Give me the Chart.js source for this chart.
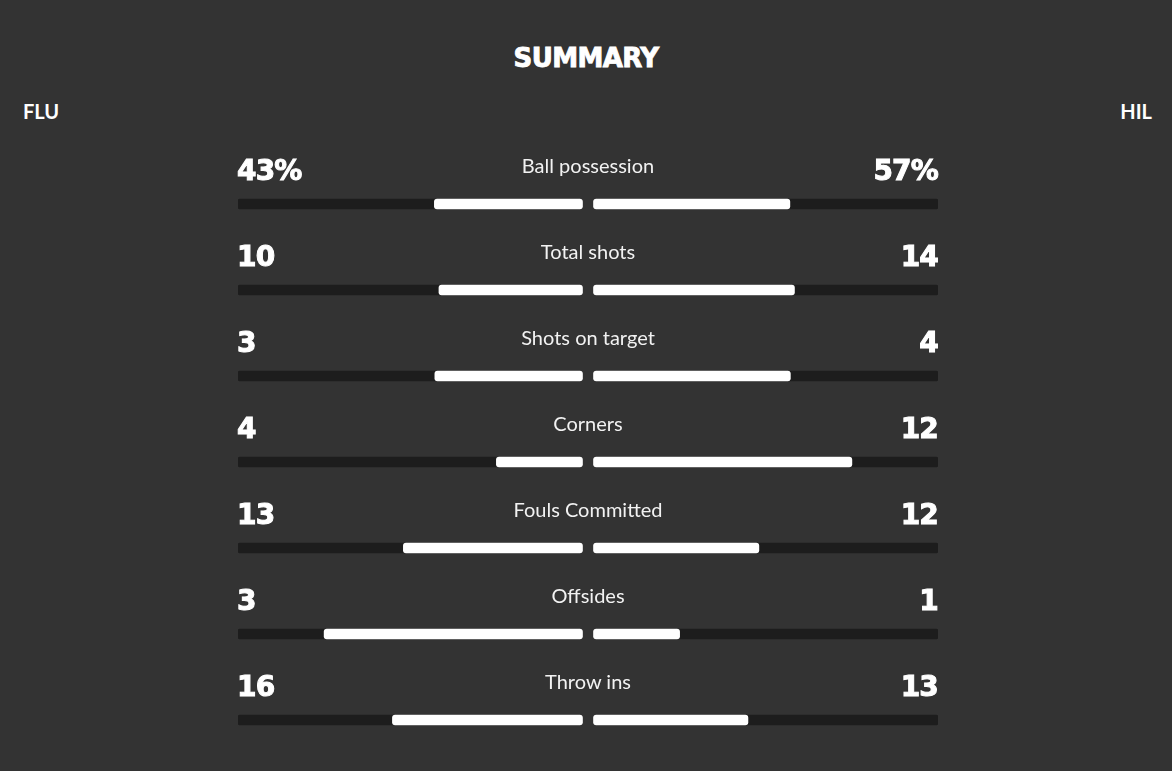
<!DOCTYPE html>
<html>
<head>
<meta charset="utf-8">
<script src="https://cdn.jsdelivr.net/npm/chart.js@4.4.1/dist/chart.umd.min.js"></script>
<style>
    html, body {
        margin: 0;
        padding: 0;
        background: #333333;
        width: 1172px;
        height: 771px;
        overflow: hidden;
    }
    #page {
        position: relative;
        width: 1172px;
        height: 771px;
        color: #ffffff;
    }
    .title {
        position: absolute;
        left: 0;
        width: 1172px;
        top: 43px;
        line-height: 30px;
        text-align: center;
        font-family: "DejaVu Sans", sans-serif;
        font-weight: bold;
        font-size: 26px;
        letter-spacing: -0.6px;
        -webkit-text-stroke: 0.9px #ffffff;
    }
    .team {
        position: absolute;
        top: 98px;
        line-height: 26px;
        font-family: "Lato", sans-serif;
        font-weight: bold;
        font-size: 20px;
    }
    #chartBox {
        position: absolute;
        left: 238px;
        top: 161px;
        width: 700px;
        height: 602px;
    }
    .stat-value {
        position: absolute;
        font-family: "DejaVu Sans", sans-serif;
        font-weight: bold;
        font-size: 28px;
        letter-spacing: -0.8px;
        line-height: 30px;
        white-space: nowrap;
        -webkit-text-stroke: 1px #ffffff;
        transform: translateY(-50%);
    }
    .stat-label {
        position: absolute;
        font-family: "Lato", sans-serif;
        font-weight: 400;
        font-size: 20px;
        line-height: 24px;
        color: #f2f2f2;
        white-space: nowrap;
        transform: translate(-50%, -50%);
    }
</style>
</head>
<body>
<div id="page">
    <div class="title">SUMMARY</div>
    <div class="team" style="left: 23px;">FLU</div>
    <div class="team" style="right: 20px;">HIL</div>
    <div id="chartBox"><canvas id="summaryChart" width="700" height="602"></canvas></div>
    <div id="labels"></div>
</div>

<script>
const categories = ['Ball possession', 'Total shots', 'Shots on target', 'Corners', 'Fouls Committed', 'Offsides', 'Throw ins'];
const fluValues = [43, 10, 3, 4, 13, 3, 16];
const hilValues = [57, 14, 4, 12, 12, 1, 13];
const valueSuffix = ['%', '', '', '', '', '', ''];

// half of the gap between the two halves, in x-scale units (-1..1)
const GAP = 5.5 / 350;

const fluShare = fluValues.map((v, i) => v / (v + hilValues[i]));
const hilShare = hilValues.map((v, i) => v / (v + fluValues[i]));

function leftExtent(share) {
    return [-(GAP + share * (1 - GAP)), -GAP];
}
function rightExtent(share) {
    return [GAP, GAP + share * (1 - GAP)];
}

const TRACK = '#1d1d1d';
const FILL = '#ffffff';

// writes the numbers and stat names as html text, placed from the chart scales
const textOverlay = {
    id: 'textOverlay',
    afterDraw(chart) {
        const holder = document.getElementById('labels');
        while (holder.firstChild) {
            holder.removeChild(holder.firstChild);
        }
        const box = document.getElementById('chartBox');
        const offX = box.offsetLeft;
        const offY = box.offsetTop;
        const area = chart.chartArea;
        const yScale = chart.scales.y;
        const xScale = chart.scales.x;
        const midX = offX + xScale.getPixelForValue(0);

        categories.forEach((name, i) => {
            const y = offY + yScale.getPixelForValue(i);

            const left = document.createElement('div');
            left.className = 'stat-value';
            left.textContent = fluValues[i] + valueSuffix[i];
            left.style.left = (offX + area.left - 1) + 'px';
            left.style.top = (y - 33) + 'px';
            holder.appendChild(left);

            const right = document.createElement('div');
            right.className = 'stat-value';
            right.textContent = hilValues[i] + valueSuffix[i];
            right.style.right = (1172 - (offX + area.right)) + 'px';
            right.style.top = (y - 33) + 'px';
            holder.appendChild(right);

            const label = document.createElement('div');
            label.className = 'stat-label';
            label.textContent = name;
            label.style.left = midX + 'px';
            label.style.top = (y - 39) + 'px';
            holder.appendChild(label);
        });
    }
};

const ctx = document.getElementById('summaryChart').getContext('2d');
new Chart(ctx, {
    type: 'bar',
    data: {
        labels: categories,
        datasets: [
            {
                label: 'FLU',
                data: fluShare.map(leftExtent),
                backgroundColor: FILL,
                borderRadius: 3,
                borderSkipped: false,
                barThickness: 10,
                grouped: false
            },
            {
                label: 'HIL',
                data: hilShare.map(rightExtent),
                backgroundColor: FILL,
                borderRadius: 3,
                borderSkipped: false,
                barThickness: 10,
                grouped: false
            },
            {
                label: 'FLU track',
                data: categories.map(() => [-1, -GAP]),
                backgroundColor: TRACK,
                borderRadius: 2,
                borderSkipped: false,
                barThickness: 10,
                grouped: false
            },
            {
                label: 'HIL track',
                data: categories.map(() => [GAP, 1]),
                backgroundColor: TRACK,
                borderRadius: 2,
                borderSkipped: false,
                barThickness: 10,
                grouped: false
            }
        ]
    },
    options: {
        indexAxis: 'y',
        responsive: false,
        animation: false,
        layout: { padding: 0 },
        plugins: {
            legend: { display: false },
            tooltip: { enabled: false }
        },
        scales: {
            x: { display: false, min: -1, max: 1 },
            y: { display: false }
        }
    },
    plugins: [textOverlay]
});
</script>
</body>
</html>
